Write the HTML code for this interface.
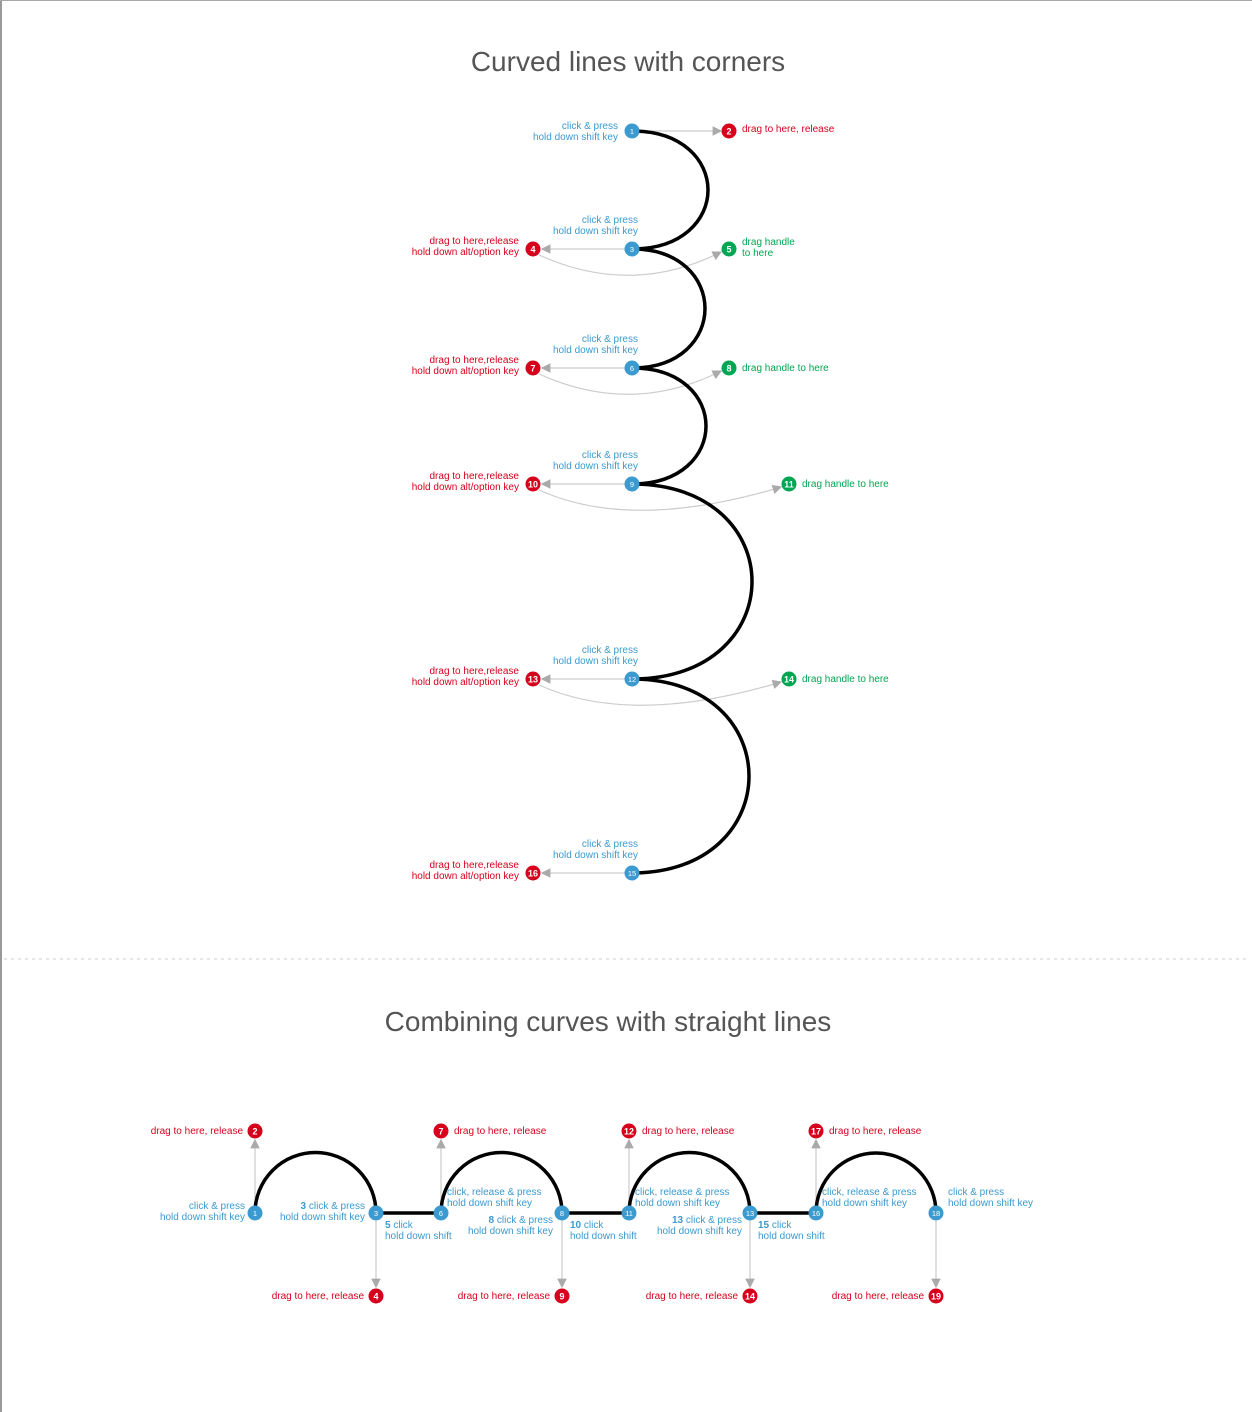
<!DOCTYPE html>
<html><head><meta charset="utf-8"><style>
html,body{margin:0;padding:0;background:#fff}
#wrap{position:relative;width:1252px;height:1412px;overflow:hidden}
svg{position:absolute;left:0;top:0}
text{font-family:"Liberation Sans",sans-serif}
</style></head><body>
<div id="wrap">
<svg id="s" width="1252" height="1412" viewBox="0 0 1252 1412">
<defs><marker id="ar" markerWidth="8" markerHeight="8" refX="7" refY="4" orient="auto"><path d="M0,0L8,4L0,8z" fill="#aaa"/></marker></defs>
<rect x="0" y="0" width="2" height="1412" fill="#999"/>
<rect x="0" y="0" width="1252" height="1" fill="#aaa"/>
<line x1="4" y1="959" x2="1248" y2="959" stroke="#ccc" stroke-dasharray="3 4"/>
<text x="628" y="71" text-anchor="middle" font-size="28" fill="#555">Curved lines with corners</text>
<text x="608" y="1031" text-anchor="middle" font-size="28" fill="#555">Combining curves with straight lines</text>
<g id="g"></g>
</svg>
</div>
<script>
// top section data
const topNodeY=[131,249,368,484,679,873];
const topNodeNum=[1,3,6,9,12,15];
const topBulgeX=[708,705,706,752,749];
const topRedNum=[4,7,10,13,16];
const topGreenNum=[5,8,11,14];
const topGreenX=[729,729,789,789];
const topGreenLabel=["drag handle|to here","drag handle to here","drag handle to here","drag handle to here"];
// bottom section data
const botNodeX=[255,376,441,562,629,750,816,936];
const botNodeNum=[1,3,6,8,11,13,16,18];
const botTopNum=[2,7,12,17];
const botBotNum=[4,9,14,19];

const NS="http://www.w3.org/2000/svg";
const G=document.getElementById('g');
const BLUE="#3b9ad0",RED="#d7001c",GREEN="#00a651";
function el(t,a,p){const e=document.createElementNS(NS,t);for(const k in a)e.setAttribute(k,a[k]);(p||G).appendChild(e);return e;}
function txt(x,y,s,fill,anchor,size){const t=el('text',{x:x,y:y,fill:fill,'font-size':size||10,'text-anchor':anchor||'start'});t.textContent=s;return t;}
function lines(x,y,str,fill,anchor){const parts=str.split('|');const g=el('g',{});parts.forEach((p,i)=>{const t=txt(x,y+i*11,p,fill,anchor);g.appendChild(t);});return g;}
function badge(x,y,n,col){const g=el('g',{});el('circle',{cx:x,cy:y,r:7.5,fill:col},g);const t=txt(x,y+3.5,String(n),'#fff','middle',9);t.setAttribute('font-weight','bold');g.appendChild(t);return g;}
function node(x,y,n){const g=el('g',{});el('circle',{cx:x,cy:y,r:7.5,fill:BLUE},g);const t=txt(x,y+3,String(n),'#fff','middle',7.5);g.appendChild(t);return g;}

const CX=632, RX=533;
let b=badge(729,131,2,RED);


el('line',{x1:CX,y1:131,x2:721,y2:131,stroke:'#ccc','stroke-width':1.2,'marker-end':'url(#ar)'});
let t0=txt(742,132,'drag to here, release',RED);


for(let i=0;i<topRedNum.length;i++){
  const y=topNodeY[i+1];
  el('line',{x1:CX,y1:y,x2:RX+9,y2:y,stroke:'#ccc','stroke-width':1.2,'marker-end':'url(#ar)'});
  if(i<topGreenNum.length){
    const gx=topGreenX[i];
    el('path',{d:`M${RX+6},${y+6} Q${CX},${y+48} ${gx-8},${y+3}`,fill:'none',stroke:'#ccc','stroke-width':1.2,'marker-end':'url(#ar)'});
    const gb=badge(gx,y,topGreenNum[i],GREEN);
    
    
    const gl=lines(gx+13,y+(topGreenLabel[i].includes('|')?-4:3),topGreenLabel[i],GREEN,'start');
    
    
  }
  const rb=badge(RX,y,topRedNum[i],RED);
  
  
  const rl=lines(RX-14,y-5,'drag to here,release|hold down alt/option key',RED,'end');
  
  
}
let d=`M${CX},${topNodeY[0]}`;
for(let i=0;i<topBulgeX.length;i++){const k=(topBulgeX[i]-CX)/0.75;d+=` C${CX+k},${topNodeY[i]} ${CX+k},${topNodeY[i+1]} ${CX},${topNodeY[i+1]}`;}
const tp=el('path',{d:d,fill:'none',stroke:'#000','stroke-width':3.5});


topNodeY.forEach((y,i)=>{
  const n=node(CX,y,topNodeNum[i]);
  
  
  const l=i==0?lines(618,y-2,'click & press|hold down shift key',BLUE,'end'):lines(638,y-26,'click & press|hold down shift key',BLUE,'end');
  
  
});

const BY=1213, TY=1131, DY=1296;
for(let i=0;i<4;i++){
  const x1=botNodeX[i*2],x2=botNodeX[i*2+1];
  el('line',{x1:x1,y1:BY,x2:x1,y2:TY+9,stroke:'#ccc','stroke-width':1.2,'marker-end':'url(#ar)'});
  el('line',{x1:x2,y1:BY,x2:x2,y2:DY-9,stroke:'#ccc','stroke-width':1.2,'marker-end':'url(#ar)'});
  const tb=badge(x1,TY,botTopNum[i],RED);
  
  
  const bb=badge(x2,DY,botBotNum[i],RED);
  
  
  const lt=i==0?txt(x1-12,TY+3,'drag to here, release',RED,'end'):txt(x1+13,TY+3,'drag to here, release',RED);
  
  
  const lb=txt(x2-12,DY+3,'drag to here, release',RED,'end');
  
  
}
let bd=`M${botNodeX[0]},${BY}`;
for(let i=0;i<4;i++){
  const x1=botNodeX[i*2],x2=botNodeX[i*2+1],r=(x2-x1)/2;
  if(i>0)bd+=` L${x1},${BY}`;
  bd+=` A${r},${r} 0 0 1 ${x2},${BY}`;
}
const bp=el('path',{d:bd,fill:'none',stroke:'#000','stroke-width':3.5});


botNodeX.forEach((x,i)=>{
  const n=node(x,BY,botNodeNum[i]);
  
  
});
function bl(x,y,s,anchor,bold){const g=el('g',{});s.split('|').forEach((p,j)=>{const t=txt(x,y+j*11,'',BLUE,anchor);if(j==0&&bold){const ts=el('tspan',{'font-weight':'bold'},t);ts.textContent=bold+' ';}t.appendChild(document.createTextNode(p));g.appendChild(t);});return g;}
bl(245,1209,'click & press|hold down shift key','end');
bl(365,1209,'click & press|hold down shift key','end','3');
bl(385,1228,'click|hold down shift','start','5');
bl(447,1195,'click, release & press|hold down shift key','start');
bl(553,1223,'click & press|hold down shift key','end','8');
bl(570,1228,'click|hold down shift','start','10');
bl(635,1195,'click, release & press|hold down shift key','start');
bl(742,1223,'click & press|hold down shift key','end','13');
bl(758,1228,'click|hold down shift','start','15');
bl(822,1195,'click, release & press|hold down shift key','start');
bl(948,1195,'click & press|hold down shift key','start');
</script>
</body></html>
